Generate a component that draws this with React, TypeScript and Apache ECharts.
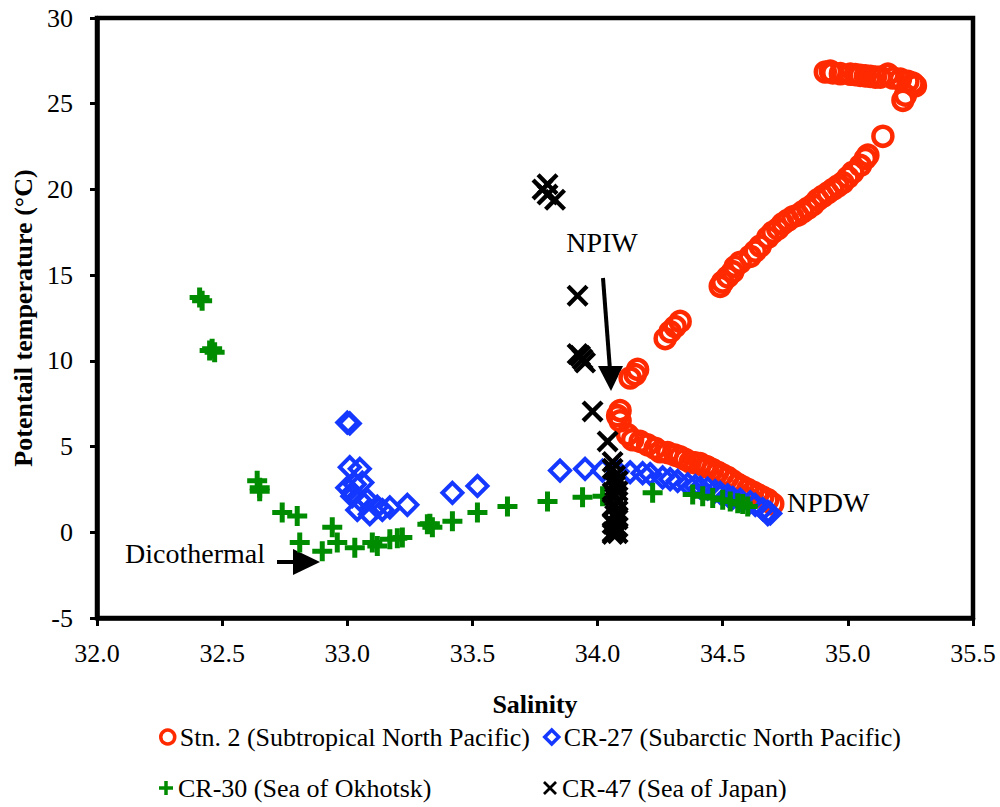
import React, { useEffect, useRef } from "react";
import * as echarts from "echarts";

// ---- Data ----
const stn2Salinity = [
  34.91, 34.93, 34.94, 34.97, 35.01, 35.03, 35.05, 35.07, 35.09, 35.11, 35.13, 35.16, 35.18, 35.21, 35.24, 35.26, 35.27, 35.23, 35.22,
  35.14, 35.08, 35.07, 35.05, 35.02, 35.0, 34.98, 34.96, 34.94, 34.92, 34.9, 34.88, 34.86, 34.84, 34.82, 34.8, 34.78, 34.76, 34.74,
  34.72, 34.7, 34.68, 34.65, 34.63, 34.61, 34.57, 34.55, 34.54, 34.52, 34.5, 34.49, 34.33, 34.31, 34.29, 34.27, 34.16, 34.15, 34.13,
  34.09, 34.08, 34.09, 34.12, 34.14, 34.17, 34.2, 34.23, 34.25, 34.28, 34.31, 34.33, 34.35, 34.37, 34.39, 34.41, 34.43, 34.44, 34.46,
  34.48, 34.5, 34.52, 34.54, 34.56, 34.58, 34.6, 34.62, 34.64, 34.66, 34.68, 34.7,
];
const stn2Temp = [
  26.85, 26.9, 26.8, 26.75, 26.72, 26.7, 26.66, 26.62, 26.6, 26.55, 26.55, 26.72, 26.5, 26.43, 26.3, 26.2, 26.05, 25.5, 25.2,
  23.1, 22.0, 21.8, 21.4, 21.0, 20.7, 20.4, 20.2, 20.0, 19.8, 19.6, 19.4, 19.1, 18.9, 18.7, 18.5, 18.4, 18.2, 18.0,
  17.7, 17.5, 17.2, 16.7, 16.4, 16.1, 15.75, 15.5, 15.2, 14.9, 14.6, 14.35, 12.3, 12.0, 11.7, 11.3, 9.5, 9.2, 9.0,
  7.1, 6.8, 6.5, 5.7, 5.4, 5.3, 5.1, 4.9, 4.7, 4.65, 4.5, 4.4, 4.25, 4.1, 4.05, 4.0, 3.85, 3.8, 3.65,
  3.5, 3.35, 3.2, 3.0, 2.8, 2.65, 2.5, 2.35, 2.2, 2.05, 1.9, 1.65,
];

const cr27Salinity = [
  33.0, 33.01, 33.01, 33.05, 33.0, 33.03, 33.06, 33.02, 33.02, 33.05, 33.04, 33.08, 33.09, 33.12, 33.14, 33.17, 33.24, 33.42, 33.52,
  33.85, 33.95, 34.02, 34.08, 34.13, 34.18, 34.21, 34.26, 34.29, 34.32, 34.36, 34.39, 34.41, 34.44, 34.47, 34.49, 34.52, 34.54, 34.57,
  34.61, 34.63, 34.66, 34.68, 34.69, 34.68,
];
const cr27Temp = [
  6.4, 6.35, 3.8, 3.7, 2.6, 2.8, 2.9, 2.3, 2.1, 1.9, 1.3, 1.9, 1.05, 1.5, 1.3, 1.45, 1.6, 2.3, 2.7,
  3.6, 3.7, 3.6, 3.55, 3.5, 3.45, 3.4, 3.2, 3.1, 3.0, 2.8, 2.7, 2.6, 2.55, 2.4, 2.3, 2.15, 2.0, 1.9,
  1.75, 1.6, 1.35, 1.2, 1.1, 1.05,
];

const cr30Salinity = [
  32.41, 32.42, 32.45, 32.47, 32.46, 32.64, 32.65, 32.65, 32.74, 32.8, 32.94, 32.81, 32.9, 32.96, 33.03, 33.1, 33.12, 33.17, 33.22,
  33.2, 33.32, 33.34, 33.33, 33.42, 33.52, 33.64, 33.8, 33.94, 34.02, 34.22, 34.38, 34.42, 34.46, 34.5, 34.53, 34.56, 34.58, 34.6,
];
const cr30Temp = [
  13.7, 13.5, 10.6, 10.5, 10.7, 3.0, 2.6, 2.4, 1.15, 0.95, 0.3, -0.6, -1.1, -0.6, -0.9, -0.6, -0.8, -0.4, -0.3,
  -0.35, 0.47, 0.3, 0.5, 0.65, 1.15, 1.5, 1.8, 2.05, 2.1, 2.3, 2.2, 2.1, 2.0, 1.9, 1.8, 1.7, 1.65, 1.5,
];

const cr47Salinity = [
  33.78, 33.8, 33.8, 33.83, 33.92, 33.92, 33.94, 33.95, 33.93, 33.98, 34.04, 34.06, 34.06, 34.07, 34.08, 34.07, 34.08, 34.07,
  34.08, 34.06, 34.08, 34.07, 34.08, 34.06, 34.08, 34.07, 34.08, 34.06, 34.07, 34.06, 34.07, 34.08, 34.07, 34.06,
];
const cr47Temp = [
  20.0, 20.3, 19.7, 19.4, 13.8, 10.4, 10.1, 9.9, 10.3, 7.05, 5.3, 4.1, 3.7, 3.3, 3.0, 2.7, 2.4, 2.1,
  1.8, 1.5, 1.25, 1.0, 0.75, 0.5, 0.3, 0.1, -0.05, -0.1, 2.9, 2.3, 1.6, 0.9, 0.4, 0.0,
];

const seriesNames = [
  "Stn. 2 (Subtropical North Pacific)",
  "CR-27 (Subarctic North Pacific)",
  "CR-30 (Sea of Okhotsk)",
  "CR-47 (Sea of Japan)",
];

const xAxisMin = 32.0;
const xAxisMax = 35.5;
const xAxisStep = 0.5;
const yAxisMin = -5;
const yAxisMax = 30;
const yAxisStep = 5;

const annotationNPIW = "NPIW";
const annotationNPDW = "NPDW";
const annotationDico = "Dicothermal";

// ---- Styles ----
const RED = "#ff2a00";
const BLUE = "#1438ff";
const GREEN = "#008c00";
const BLACK = "#000000";
const FONT = "'Liberation Serif', 'Times New Roman', serif";

const PLUS_PATH = "path://M7.5,0h5v7.5h7.5v5h-7.5v7.5h-5v-7.5h-7.5v-5h7.5z";
const X_PATH =
  "path://M0,2.8L2.8,0L10,7.2L17.2,0L20,2.8L12.8,10L20,17.2L17.2,20L10,12.8L2.8,20L0,17.2L7.2,10z";

function zip(xs: number[], ys: number[]) {
  return xs.map((x, i) => [x, ys[i]]);
}

export default function App() {
  const ref = useRef<HTMLDivElement>(null);

  useEffect(() => {
    if (!ref.current) return;
    const chart = echarts.init(ref.current, undefined, { renderer: "svg" });

    const legendText = { fontSize: 26, fontFamily: FONT, color: "#000" };
    const legendIcons: any[] = [
      { icon: "circle", itemStyle: { color: "rgba(0,0,0,0)", borderColor: RED, borderWidth: 3.5, opacity: 1 } },
      { icon: "diamond", itemStyle: { color: "rgba(0,0,0,0)", borderColor: BLUE, borderWidth: 3.5, opacity: 1 } },
      { icon: PLUS_PATH, itemStyle: { color: GREEN, borderWidth: 0, opacity: 1 } },
      { icon: X_PATH, itemStyle: { color: BLACK, borderWidth: 0, opacity: 1 } },
    ];
    const legendPos = [
      { left: 159, top: 724 },
      { left: 543, top: 724 },
      { left: 159, top: 775 },
      { left: 543, top: 775 },
    ];
    const legends = seriesNames.map((name, i) => ({
      orient: "horizontal",
      left: legendPos[i].left,
      top: legendPos[i].top,
      padding: 0,
      itemWidth: 14,
      itemHeight: 14,
      textStyle: legendText,
      selectedMode: false,
      data: [{ name, ...legendIcons[i] }],
    }));

    const option: any = {
      animation: false,
      backgroundColor: "#ffffff",
      grid: {
        left: 97,
        top: 18,
        right: 27,
        bottom: 189,
        show: true,
        borderColor: "#000",
        borderWidth: 4.5,
        backgroundColor: "transparent",
      },
      xAxis: {
        type: "value",
        min: xAxisMin,
        max: xAxisMax,
        interval: xAxisStep,
        name: "Salinity",
        nameLocation: "middle",
        nameGap: 73,
        nameTextStyle: { fontSize: 26, fontWeight: "bold", fontFamily: FONT, color: "#000" },
        axisLine: { show: true, onZero: false, lineStyle: { color: "#000", width: 4.5 } },
        axisTick: { show: true, inside: false, length: 8, lineStyle: { color: "#000", width: 3 } },
        axisLabel: {
          fontSize: 26,
          fontFamily: FONT,
          color: "#000",
          margin: 22,
          formatter: (v: number) => v.toFixed(1),
        },
        splitLine: { show: false },
      },
      yAxis: {
        type: "value",
        min: yAxisMin,
        max: yAxisMax,
        interval: yAxisStep,
        name: "Potentail temperature (°C)",
        nameLocation: "middle",
        nameGap: 58,
        nameTextStyle: { fontSize: 26, fontWeight: "bold", fontFamily: FONT, color: "#000" },
        axisLine: { show: true, onZero: false, lineStyle: { color: "#000", width: 4.5 } },
        axisTick: { show: true, inside: false, length: 7, lineStyle: { color: "#000", width: 3 } },
        axisLabel: { fontSize: 26, fontFamily: FONT, color: "#000", margin: 24 },
        splitLine: { show: false },
      },
      legend: legends,
      series: [
        {
          name: seriesNames[0],
          type: "scatter",
          symbol: "circle",
          symbolSize: 19,
          itemStyle: { color: "rgba(0,0,0,0)", borderColor: RED, borderWidth: 4.5, opacity: 1 },
          data: zip(stn2Salinity, stn2Temp),
        },
        {
          name: seriesNames[1],
          type: "scatter",
          symbol: "diamond",
          symbolSize: 20,
          itemStyle: { color: "rgba(0,0,0,0)", borderColor: BLUE, borderWidth: 4, opacity: 1 },
          data: zip(cr27Salinity, cr27Temp),
        },
        {
          name: seriesNames[2],
          type: "scatter",
          symbol: PLUS_PATH,
          symbolSize: 20,
          itemStyle: { color: GREEN, opacity: 1 },
          data: zip(cr30Salinity, cr30Temp),
        },
        {
          name: seriesNames[3],
          type: "scatter",
          symbol: X_PATH,
          symbolSize: 22,
          itemStyle: { color: BLACK, opacity: 1 },
          data: zip(cr47Salinity, cr47Temp),
        },
      ],
      graphic: [
        {
          type: "text",
          x: 602,
          y: 242,
          style: {
            text: annotationNPIW,
            fontSize: 28,
            fontFamily: FONT,
            fill: "#000",
            textAlign: "center",
            textVerticalAlign: "middle",
          },
        },
        {
          type: "line",
          shape: { x1: 603, y1: 278, x2: 610, y2: 370 },
          style: { stroke: "#000", lineWidth: 4 },
        },
        {
          type: "polygon",
          shape: { points: [[598, 366], [623, 366], [611, 391]] },
          style: { fill: "#000" },
        },
        {
          type: "text",
          x: 787,
          y: 502,
          style: {
            text: annotationNPDW,
            fontSize: 28,
            fontFamily: FONT,
            fill: "#000",
            textAlign: "left",
            textVerticalAlign: "middle",
          },
        },
        {
          type: "text",
          x: 125,
          y: 553,
          style: {
            text: annotationDico,
            fontSize: 28,
            fontFamily: FONT,
            fill: "#000",
            textAlign: "left",
            textVerticalAlign: "middle",
          },
        },
        {
          type: "line",
          shape: { x1: 277, y1: 562, x2: 297, y2: 562 },
          style: { stroke: "#000", lineWidth: 4 },
        },
        {
          type: "polygon",
          shape: { points: [[293, 549], [293, 575], [320, 562]] },
          style: { fill: "#000" },
        },
      ],
    };

    chart.setOption(option);
    return () => chart.dispose();
  }, []);

  return (
    <div
      ref={ref}
      style={{ position: "fixed", left: 0, top: 0, width: 1000, height: 807, background: "#fff" }}
    />
  );
}
